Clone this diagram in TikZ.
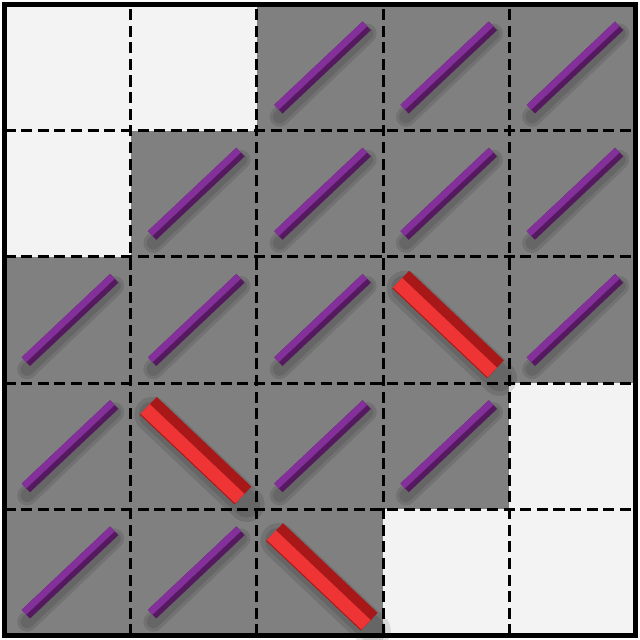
\documentclass[tikz,border=0pt]{standalone}
\usepackage{tikz}

\definecolor{cellgray}{HTML}{808080}
\definecolor{cellwhite}{HTML}{F3F3F3}
\definecolor{rodpurple}{HTML}{84309A}
\definecolor{rodpurpledark}{HTML}{55195F}
\definecolor{rodred}{HTML}{EE3434}
\definecolor{rodreddark}{HTML}{A81818}

\tikzset{
    graycell/.style={fill=cellgray},
    whitecell/.style={fill=cellwhite},
    gridline/.style={black,line width=1.4pt,dash pattern=on 5pt off 2.5pt},
    rodshadow/.style={black,opacity=0.10,line cap=round},
}

% purple rod in cell (column, row from top)
\newcommand{\purplerod}[2]{
    \begin{scope}[shift={({2*#1},{8-2*#2})}]
        \draw[rodshadow,line width=9pt] (0.36,0.22) -- (1.74,1.54);
        \draw[rodshadow,line width=6pt] (0.36,0.22) -- (1.74,1.54);
        \draw[rodpurpledark,line width=5.4pt] (0.34,0.34) -- (1.74,1.66);
        \draw[rodpurple,line width=3pt] (0.31,0.37) -- (1.71,1.69);
    \end{scope}
}

% red rod in cell (column, row from top)
\newcommand{\redrod}[2]{
    \begin{scope}[shift={({2*#1},{8-2*#2})}]
        \draw[rodshadow,line width=16pt] (0.34,1.50) -- (1.84,0.08);
        \draw[rodshadow,line width=12pt] (0.34,1.50) -- (1.84,0.08);
        \draw[rodreddark,line width=11pt] (0.28,1.64) -- (1.78,0.22);
        \draw[rodred,line width=6pt] (0.23,1.59) -- (1.73,0.17);
    \end{scope}
}

\begin{document}
\begin{tikzpicture}
    \useasboundingbox (-0.07,-0.07) rectangle (10.07,10.07);

    % Gray background
    \fill[graycell] (0,0) rectangle (10,10);

    % White cells
    \foreach \c/\r in {0/0, 1/0, 0/1, 4/3, 3/4, 4/4} {
        \fill[whitecell] ({2*\c},{8-2*\r}) rectangle ++(2,2);
    }

    % Purple rods
    \foreach \c/\r in {2/0, 3/0, 4/0, 1/1, 2/1, 3/1, 4/1, 0/2, 1/2, 2/2, 4/2, 0/3, 2/3, 3/3, 0/4, 1/4} {
        \purplerod{\c}{\r}
    }

    % Red rods
    \foreach \c/\r in {3/2, 1/3, 2/4} {
        \redrod{\c}{\r}
    }

    % Dashed grid
    \foreach \i in {2,4,6,8} {
        \draw[gridline] (\i,0) -- (\i,10);
        \draw[gridline] (0,\i) -- (10,\i);
    }

    % Outer frame
    \draw[black,line width=2.2pt] (0,0) rectangle (10,10);
\end{tikzpicture}
\end{document}
